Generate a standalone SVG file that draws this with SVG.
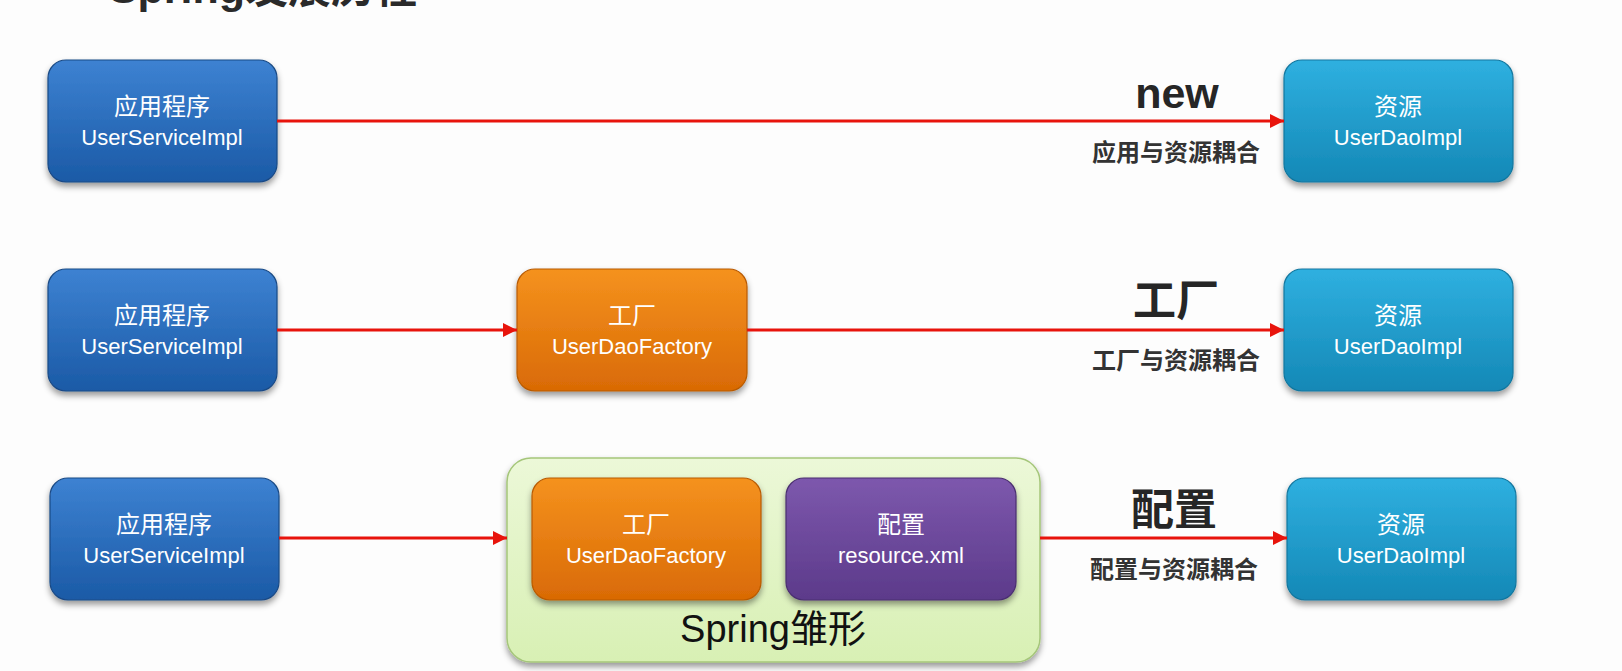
<svg xmlns="http://www.w3.org/2000/svg" width="1622" height="671" viewBox="0 0 1622 671">
<defs>
<linearGradient id="gBlue" x1="0" y1="0" x2="0" y2="1"><stop offset="0" stop-color="#3d82d2"/><stop offset="1" stop-color="#1b5aa6"/></linearGradient>
<linearGradient id="gCyan" x1="0" y1="0" x2="0" y2="1"><stop offset="0" stop-color="#2fb0e0"/><stop offset="1" stop-color="#1488b6"/></linearGradient>
<linearGradient id="gOrange" x1="0" y1="0" x2="0" y2="1"><stop offset="0" stop-color="#f5921e"/><stop offset="1" stop-color="#d96a05"/></linearGradient>
<linearGradient id="gPurple" x1="0" y1="0" x2="0" y2="1"><stop offset="0" stop-color="#7d58ad"/><stop offset="1" stop-color="#5c3a8a"/></linearGradient>
<linearGradient id="gGreen" x1="0" y1="0" x2="0" y2="1"><stop offset="0" stop-color="#ecf8d8"/><stop offset="1" stop-color="#d8f0b4"/></linearGradient>
<filter id="sh" x="-10%" y="-10%" width="120%" height="130%"><feDropShadow dx="0" dy="4" stdDeviation="3" flood-color="#000" flood-opacity="0.4"/></filter>
<marker id="ah" viewBox="0 0 10 10" refX="10" refY="5" markerWidth="16" markerHeight="14" markerUnits="userSpaceOnUse" orient="auto"><path d="M0,0 L10,5 L0,10 z" fill="#e8140c"/></marker>
</defs>
<style>
.box{filter:url(#sh);stroke-width:1.2}
.blue{fill:url(#gBlue);stroke:#1a4a85}
.cyan{fill:url(#gCyan);stroke:#12779f}
.orange{fill:url(#gOrange);stroke:#b85a05}
.purple{fill:url(#gPurple);stroke:#4a2e70}
.green{fill:url(#gGreen);stroke:#a5c67a;stroke-width:1.5}
.t1{font-family:"Noto Sans CJK SC","Liberation Sans",sans-serif;font-size:24px;fill:#fff;text-anchor:middle}
.t2{font-family:"Liberation Sans","Noto Sans CJK SC",sans-serif;font-size:22px;fill:#fff;text-anchor:middle}
.big{font-family:"Liberation Sans","Noto Sans CJK SC",sans-serif;font-weight:bold;font-size:43px;fill:#262626;text-anchor:middle}
.small{font-family:"Noto Sans CJK SC",sans-serif;font-weight:bold;font-size:24px;fill:#333;text-anchor:middle}
.conn line{stroke:#e8140c;stroke-width:3;marker-end:url(#ah)}
</style>
<rect width="1622" height="671" fill="#fdfdfd"/>
<text x="263" y="3" font-family="Liberation Sans,Noto Sans CJK SC,sans-serif" font-weight="bold" font-size="43" fill="#2a2a2a" text-anchor="middle">Spring发展历程</text>

<g id="spring">
<rect class="green" x="507" y="458" width="533" height="204" rx="24" filter="url(#sh)"/>
<text x="773" y="642" font-family="Liberation Sans,Noto Sans CJK SC,sans-serif" font-size="38" fill="#111" text-anchor="middle">Spring雏形</text>
</g>

<g id="app1"><rect class="box blue" x="48" y="60" width="229" height="122" rx="18"/><text class="t1" x="162" y="115">应用程序</text><text class="t2" x="162" y="145">UserServiceImpl</text></g>
<g id="res1"><rect class="box cyan" x="1284" y="60" width="229" height="122" rx="18"/><text class="t1" x="1398" y="115">资源</text><text class="t2" x="1398" y="145">UserDaoImpl</text></g>

<g id="app2"><rect class="box blue" x="48" y="269" width="229" height="122" rx="18"/><text class="t1" x="162" y="324">应用程序</text><text class="t2" x="162" y="354">UserServiceImpl</text></g>
<g id="fac2"><rect class="box orange" x="517" y="269" width="230" height="122" rx="18"/><text class="t1" x="632" y="324">工厂</text><text class="t2" x="632" y="354">UserDaoFactory</text></g>
<g id="res2"><rect class="box cyan" x="1284" y="269" width="229" height="122" rx="18"/><text class="t1" x="1398" y="324">资源</text><text class="t2" x="1398" y="354">UserDaoImpl</text></g>

<g id="app3"><rect class="box blue" x="50" y="478" width="229" height="122" rx="18"/><text class="t1" x="164" y="533">应用程序</text><text class="t2" x="164" y="563">UserServiceImpl</text></g>
<g id="fac3"><rect class="box orange" x="532" y="478" width="229" height="122" rx="18"/><text class="t1" x="646" y="533">工厂</text><text class="t2" x="646" y="563">UserDaoFactory</text></g>
<g id="cfg3"><rect class="box purple" x="786" y="478" width="230" height="122" rx="18"/><text class="t1" x="901" y="533">配置</text><text class="t2" x="901" y="563">resource.xml</text></g>
<g id="res3"><rect class="box cyan" x="1287" y="478" width="229" height="122" rx="18"/><text class="t1" x="1401" y="533">资源</text><text class="t2" x="1401" y="563">UserDaoImpl</text></g>

<g class="conn" id="connectors">
<line x1="277" y1="121" x2="1284" y2="121"/>
<line x1="277" y1="330" x2="517" y2="330"/>
<line x1="747" y1="330" x2="1284" y2="330"/>
<line x1="279" y1="538" x2="507" y2="538"/>
<line x1="1040" y1="538" x2="1287" y2="538"/>
</g>

<g id="labels">
<text class="big" x="1177" y="108">new</text>
<text class="small" x="1176" y="161">应用与资源耦合</text>
<text class="big" x="1176" y="316">工厂</text>
<text class="small" x="1176" y="369">工厂与资源耦合</text>
<text class="big" x="1174" y="525">配置</text>
<text class="small" x="1174" y="578">配置与资源耦合</text>
</g>
</svg>
